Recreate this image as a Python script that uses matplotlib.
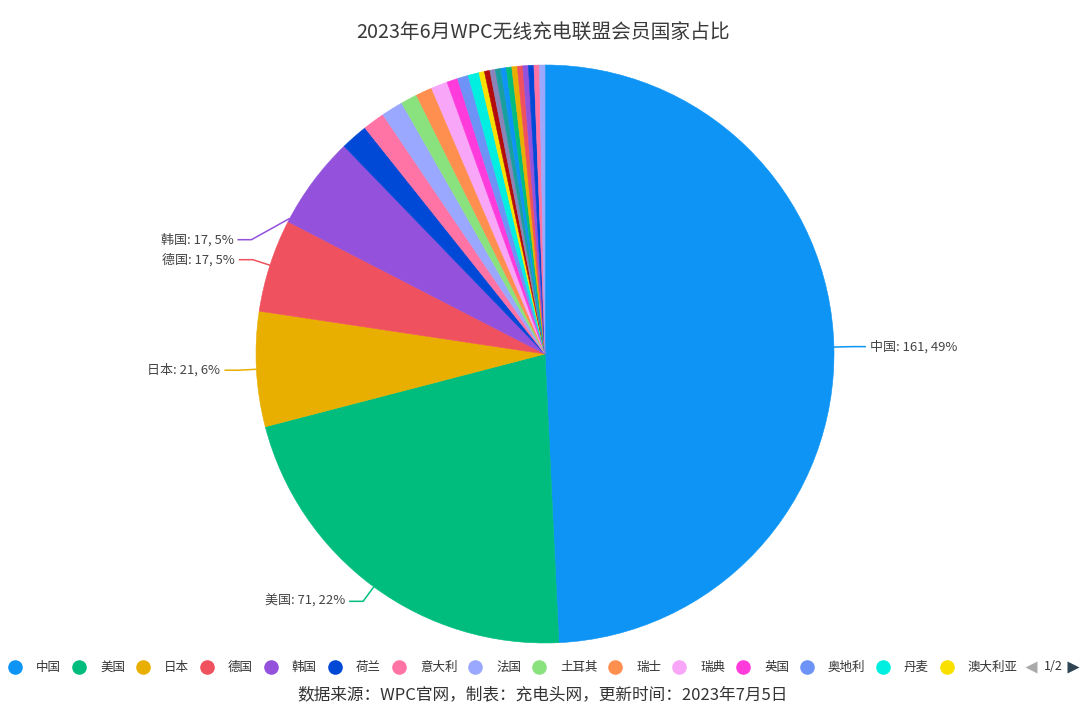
import numpy as np
import matplotlib
matplotlib.use("Agg")
import matplotlib.pyplot as plt

plt.rcParams['font.family'] = ['Noto Sans CJK SC', 'DejaVu Sans']

# ---------------- data ----------------
title = "2023年6月WPC无线充电联盟会员国家占比"
footer = "数据来源：WPC官网，制表：充电头网，更新时间：2023年7月5日"
countries = ['中国', '美国', '日本', '德国', '韩国', '荷兰', '意大利', '法国', '土耳其',
             '瑞士', '瑞典', '英国', '奥地利', '丹麦', '澳大利亚', '加拿大', '以色列',
             '芬兰', '西班牙', '印度', '比利时', '新加坡', '挪威', '波兰', '爱尔兰', '马来西亚']
members = [161, 71, 21, 17, 17, 5, 4, 4, 3, 3, 3, 2, 2, 2, 1, 1, 1, 1, 1, 1, 1, 1, 1, 1, 1, 1]
legend_page_count = 15
page_text = "1/2"

palette = ['#0D94F5', '#00BD7E', '#E8AF00', '#F0515E', '#9351DC', '#0049D6', '#FF73A5',
           '#9BA8FF', '#8AE27F', '#FF8F4E', '#F7A6F8', '#FF3BDC', '#6C93F5', '#00EFE0',
           '#F9E000', '#B30C0C', '#8A84B8', '#1A9E9E']

# ---------------- figure ----------------
W, H = 1080, 714
fig = plt.figure(figsize=(W / 100, H / 100), dpi=100)
fig.patch.set_facecolor('white')
ax = fig.add_axes([0, 0, 1, 1])

def Y(y):  # pixel-from-top -> axis y
    return H - y

cx, cy, R = 545, Y(354), 289
colors = [palette[i % len(palette)] for i in range(len(members))]
wedges, _ = ax.pie(members, colors=colors, startangle=90, counterclock=False,
                   center=(cx, cy), radius=R, wedgeprops=dict(linewidth=0.4))
for w, c in zip(wedges, colors):
    w.set_edgecolor(c)
ax.set_xlim(0, W)
ax.set_ylim(0, H)
ax.set_aspect('equal')
ax.axis('off')

# ---------------- labels ----------------
total = sum(members)
vals = np.array(members, dtype=float)
spans = vals / total * 360.0
starts = np.concatenate([[0], np.cumsum(spans)[:-1]])
len1, len2, gap = 18, 14, 4
label_color = '#444444'
prev_left_y = None
label_idx = [i for i in range(len(members)) if spans[i] > 10]
for i in label_idx:
    mid = starts[i] + spans[i] / 2
    t = np.deg2rad(mid)
    d = np.array([np.sin(t), np.cos(t)])
    P = np.array([cx, cy]) + R * d
    E = np.array([cx, cy]) + (R + len1) * d
    side = 1 if d[0] >= 0 else -1
    if countries[i] == '韩国':
        # shifted label (placed just above the previous left label)
        ly = prev_left_y + 20
        ts = np.deg2rad(starts[i] + spans[i] * 0.04)
        P = np.array([cx, cy]) + R * np.array([np.sin(ts), np.cos(ts)])
        ex = cx - np.sqrt((R + len1 + 8) ** 2 - (ly - cy) ** 2)
        E = np.array([ex, ly])
    Hh = E + np.array([side * len2, 0])
    ax.plot([P[0], E[0], Hh[0]], [P[1], E[1], Hh[1]], color=colors[i], lw=1.1,
            solid_capstyle='butt', zorder=3)
    pct = round(members[i] / total * 100)
    ax.text(Hh[0] + side * gap, Hh[1], f"{countries[i]}: {members[i]}, {pct}%",
            ha='left' if side > 0 else 'right', va='center', fontsize=9.4,
            color=label_color, zorder=4)
    if side < 0:
        prev_left_y = E[1]

# ---------------- title & footer ----------------
ax.text(543, Y(33), title, ha='center', va='center', fontsize=14.2, color='#3a3a3a')
ax.text(543, Y(695), footer, ha='center', va='center', fontsize=12, color='#333333')

# ---------------- legend (page 1) ----------------
lx = 15
ly = Y(667)
for i in range(legend_page_count):
    ax.plot(lx, ly, marker='o', ms=10.5, color=colors[i], mec='none', zorder=5)
    ax.text(lx + 21, ly, countries[i], ha='left', va='center', fontsize=9,
            color='#333333', zorder=5)
    lx += 40 + 12 * len(countries[i])
ax.plot(1031, ly, marker='<', ms=9, color='#AAAAAA', mec='none')
ax.text(1053, ly, page_text, ha='center', va='center', fontsize=9, color='#333333')
ax.plot(1073, ly, marker='>', ms=9, color='#2F4554', mec='none')

fig.savefig('out.png', dpi=100, facecolor='white')
